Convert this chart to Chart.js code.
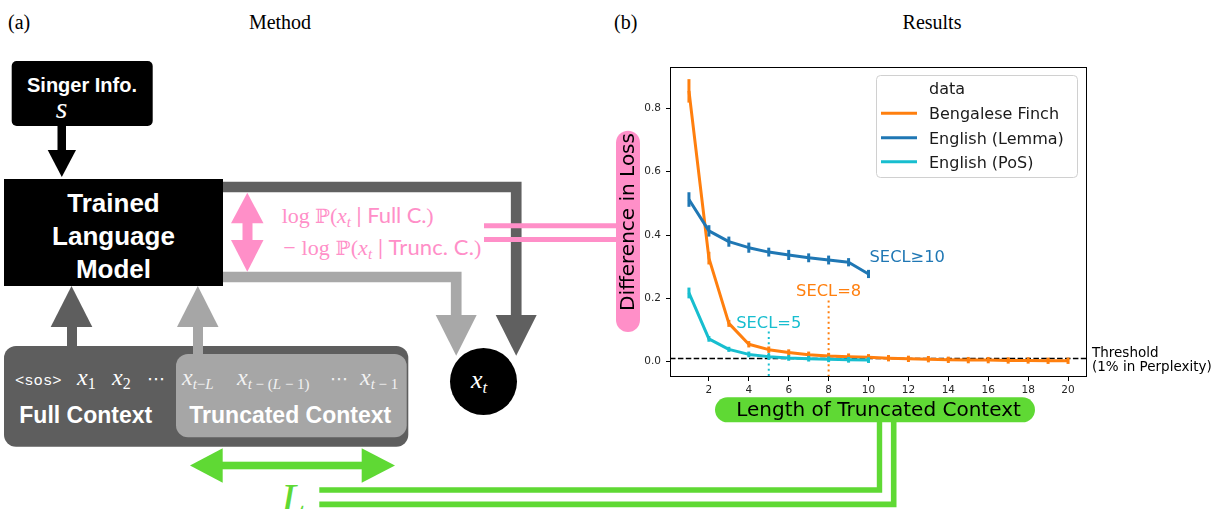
<!DOCTYPE html>
<html><head><meta charset="utf-8">
<script src="https://cdn.jsdelivr.net/npm/chart.js@4.4.1/dist/chart.umd.min.js"></script>
<style>
html,body{margin:0;padding:0;background:#fff;width:1215px;height:509px;overflow:hidden}
#wrap{position:relative;width:1215px;height:509px}
#diag{position:absolute;left:0;top:0}
#c{position:absolute;left:0;top:0}
</style></head><body>
<div id="wrap">
<svg id="diag" width="1215" height="509" xmlns="http://www.w3.org/2000/svg">
<g font-family="Liberation Serif" font-size="20" fill="#000">
 <text x="8" y="29">(a)</text>
 <text x="280" y="29" text-anchor="middle">Method</text>
 <text x="614" y="29">(b)</text>
 <text x="932" y="29" text-anchor="middle">Results</text>
</g>
<rect x="11.7" y="61" width="141" height="65" rx="5" fill="#000"/>
<text x="82" y="92" text-anchor="middle" font-family="Liberation Sans" font-weight="bold" font-size="20" fill="#fff">Singer Info.</text>
<text x="61.5" y="118" text-anchor="middle" font-family="Liberation Serif" font-style="italic" font-size="30" fill="#fff">s</text>
<rect x="57.5" y="125" width="8.5" height="27" fill="#000"/>
<polygon points="47.7,150 76,150 61.8,177" fill="#000"/>
<rect x="4" y="179" width="219" height="107" fill="#000"/>
<g font-family="Liberation Sans" font-weight="bold" font-size="26" fill="#fff" text-anchor="middle">
<text x="113.5" y="211.5">Trained</text><text x="113.5" y="245">Language</text><text x="113.5" y="277.5">Model</text></g>
<polyline points="223,187 516.2,187 516.2,316" fill="none" stroke="#606060" stroke-width="10.7"/>
<polygon points="495.7,315 536.7,315 516.2,355.7" fill="#606060"/>
<polyline points="223,277 456.2,277 456.2,316" fill="none" stroke="#a8a8a8" stroke-width="10.7"/>
<polygon points="435.7,315 476.7,315 456.2,355.7" fill="#a8a8a8"/>
<rect x="242.5" y="221" width="10" height="21" fill="#ff8fc8"/>
<polygon points="231,223.3 263.5,223.3 247.3,192.7" fill="#ff8fc8"/>
<polygon points="231,240 263.5,240 247.3,271.7" fill="#ff8fc8"/>
<g fill="#ff8fc8" font-size="22" font-family="Liberation Serif">
<text x="281.7" y="223" textLength="152" lengthAdjust="spacing">log <tspan font-family="DejaVu Serif" font-size="20">ℙ</tspan>(<tspan font-style="italic">x</tspan><tspan font-style="italic" font-size="15" dy="4">t</tspan><tspan dy="-4"> </tspan><tspan font-family="Lato">| Full C.</tspan>)</text>
<text x="283.3" y="255" textLength="198" lengthAdjust="spacing">− log <tspan font-family="DejaVu Serif" font-size="20">ℙ</tspan>(<tspan font-style="italic">x</tspan><tspan font-style="italic" font-size="15" dy="4">t</tspan><tspan dy="-4"> </tspan><tspan font-family="Lato">| Trunc. C.</tspan>)</text>
</g>
<line x1="484" y1="225.8" x2="622" y2="225.8" stroke="#ff8fc8" stroke-width="5"/>
<line x1="484" y1="239.5" x2="622" y2="239.5" stroke="#ff8fc8" stroke-width="5"/>
<circle cx="483.5" cy="381.5" r="33.5" fill="#000"/>
<text x="471" y="388" font-family="Liberation Serif" font-style="italic" font-size="26" fill="#fff">x<tspan font-size="17" dy="5">t</tspan></text>
<rect x="67" y="320" width="10" height="30" fill="#5e5e5e"/>
<polygon points="50.7,327 92.3,327 71.5,286" fill="#5e5e5e"/>
<rect x="4" y="346" width="404.3" height="100.7" rx="12" fill="#5e5e5e"/>
<rect x="176" y="354" width="230.7" height="83.3" rx="12" fill="#a6a6a6"/>
<rect x="193" y="320" width="10" height="36" fill="#a6a6a6"/>
<polygon points="177,327 218.5,327 197.8,286" fill="#a6a6a6"/>
<g fill="#fff" font-family="Liberation Serif" font-style="italic" font-size="24">
<text x="15" y="385" font-family="Liberation Mono" font-style="normal" font-size="15.5">&lt;sos&gt;</text>
<text x="77" y="385">x<tspan font-style="normal" font-size="16" dy="4">1</tspan></text>
<text x="112" y="385">x<tspan font-style="normal" font-size="16" dy="4">2</tspan></text>
<text x="147" y="385" font-family="DejaVu Sans" font-style="normal" font-size="18">⋯</text>
</g>
<g fill="#f2f2f2" font-family="Liberation Serif" font-style="italic" font-size="24">
<text x="182" y="385">x<tspan font-size="15" dy="4">t</tspan><tspan font-style="normal" font-size="15">−</tspan><tspan font-size="15">L</tspan></text>
<text x="237" y="385">x<tspan font-size="15" dy="4">t</tspan><tspan font-style="normal" font-size="15"> − (</tspan><tspan font-size="15">L</tspan><tspan font-style="normal" font-size="15"> − 1)</tspan></text>
<text x="330" y="385" font-family="DejaVu Sans" font-style="normal" font-size="18">⋯</text>
<text x="360" y="385">x<tspan font-size="15" dy="4">t</tspan><tspan font-style="normal" font-size="15"> − 1</tspan></text>
</g>
<g fill="#fff" font-family="Liberation Sans" font-weight="bold" font-size="23">
<text x="19.3" y="423.3">Full Context</text>
<text x="189.3" y="423.3">Truncated Context</text>
</g>
<rect x="220" y="461.7" width="144" height="7.6" fill="#5fd934"/>
<polygon points="190,465.5 222.7,448.3 222.7,482.7" fill="#5fd934"/>
<polygon points="395,465.5 361.7,448.3 361.7,482.7" fill="#5fd934"/>
<text x="281" y="514" font-family="Liberation Serif" font-style="italic" font-size="44" fill="#5fd934">L</text>
<polyline points="319.3,490 879.5,490 879.5,418" fill="none" stroke="#5fd934" stroke-width="5.4"/>
<polyline points="319.3,504.4 893.7,504.4 893.7,418" fill="none" stroke="#5fd934" stroke-width="5.6"/>
</svg>
<canvas id="c" width="1215" height="509"></canvas>
</div>
<script>
// ---- data ----
const LENGTHS = [1,2,3,4,5,6,7,8,9,10,11,12,13,14,15,16,17,18,19,20];
const FINCH = [0.855,0.327,0.121,0.055,0.038,0.029,0.022,0.018,0.016,0.014,0.011,0.009,0.008,0.006,0.005,0.005,0.004,0.004,0.003,0.003];
const FINCH_ERR = [0.037,0.020,0.011,0.010,0.010,0.010,0.010,0.010,0.010,0.010,0.010,0.010,0.010,0.010,0.010,0.010,0.010,0.010,0.010,0.010];
const LEMMA = [0.512,0.413,0.379,0.360,0.346,0.337,0.328,0.321,0.314,0.277];
const LEMMA_ERR = [0.023,0.018,0.016,0.016,0.014,0.016,0.014,0.014,0.013,0.013];
const POS = [0.217,0.072,0.039,0.023,0.016,0.012,0.0095,0.0075,0.006,0.005];
const POS_ERR = [0.017,0.009,0.008,0.009,0.009,0.009,0.009,0.009,0.009,0.009];
const SERIES_NAMES = ['Bengalese Finch','English (Lemma)','English (PoS)'];
const LEGEND_TITLE = 'data';
const X_TICKS = [2,4,6,8,10,12,14,16,18,20];
const Y_TICKS = [0.0,0.2,0.4,0.6,0.8];
const THRESHOLD = 0.01;
const THRESHOLD_LABEL = ['Threshold','(1% in Perplexity)'];
const SECL_LABELS = ['SECL=5','SECL=8','SECL≥10'];
const SECL_X = [5,8,10];
const SECL_SERIES = [2,0,1];
const SECL_LINE_TOP = [0.095,0.193,null];
const SECL_TEXT_Y = [0.105,0.207,0.314];
const SECL_ALIGN = ['center','center','left'];
const COLORS = ['#ff7f0e','#1f77b4','#17becf'];

Chart.defaults.font.family = "'DejaVu Sans', sans-serif";

function rr(ctx,x,y,w,h,r){ctx.beginPath();ctx.moveTo(x+r,y);ctx.lineTo(x+w-r,y);ctx.arcTo(x+w,y,x+w,y+r,r);ctx.lineTo(x+w,y+h-r);ctx.arcTo(x+w,y+h,x+w-r,y+h,r);ctx.lineTo(x+r,y+h);ctx.arcTo(x,y+h,x,y+h-r,r);ctx.lineTo(x,y+r);ctx.arcTo(x,y,x+r,y,r);ctx.closePath();}

const mk = (vals) => vals.map((v,i)=>({x:LENGTHS[i], y:v}));

const errorBars = {
  id:'errorBars',
  afterDatasetDraw(chart,args){
    const ds = chart.data.datasets[args.index];
    if(!ds.errors) return;
    const {x,y} = chart.scales, ctx = chart.ctx;
    ctx.save(); ctx.strokeStyle = ds.borderColor; ctx.lineWidth = 3; ctx.lineCap='butt';
    ds.data.forEach((p,i)=>{
      const px = x.getPixelForValue(p.x);
      ctx.beginPath(); ctx.moveTo(px,y.getPixelForValue(p.y-ds.errors[i])); ctx.lineTo(px,y.getPixelForValue(p.y+ds.errors[i])); ctx.stroke();
    });
    ctx.restore();
  }
};

const decor = {
  id:'decor',
  beforeDraw(chart){
    const ctx = chart.ctx; ctx.save();
    ctx.fillStyle='#ff8fc8'; rr(ctx,616,130.7,24,201.3,12); ctx.fill();
    ctx.fillStyle='#5fd934'; rr(ctx,715,397.3,320,25,12.5); ctx.fill();
    ctx.restore();
  },
  beforeDatasetsDraw(chart){
    const {ctx,scales:{x,y},chartArea:a} = chart;
    ctx.save();
    ctx.strokeStyle='#000'; ctx.lineWidth=1.5; ctx.setLineDash([5.5,2.4]);
    const ty = y.getPixelForValue(THRESHOLD);
    ctx.beginPath(); ctx.moveTo(a.left,ty); ctx.lineTo(a.right,ty); ctx.stroke();
    ctx.lineWidth=2; ctx.setLineDash([2,3.3]);
    SECL_X.forEach((v,i)=>{
      if(SECL_LINE_TOP[i]==null) return;
      ctx.strokeStyle = COLORS[SECL_SERIES[i]];
      const px = x.getPixelForValue(v);
      ctx.beginPath(); ctx.moveTo(px,y.getPixelForValue(SECL_LINE_TOP[i])); ctx.lineTo(px,a.bottom); ctx.stroke();
    });
    ctx.restore();
  },
  afterDraw(chart){
    const {ctx,scales:{x,y},chartArea:a} = chart;
    ctx.save();
    ctx.strokeStyle='#000'; ctx.lineWidth=1; ctx.setLineDash([]);
    ctx.strokeRect(a.left+0.5,a.top+0.5,a.right-a.left-1,a.bottom-a.top-1);
    ctx.font='16.3px "DejaVu Sans"'; ctx.textBaseline='alphabetic';
    SECL_LABELS.forEach((t,i)=>{
      ctx.fillStyle = COLORS[SECL_SERIES[i]];
      ctx.textAlign = SECL_ALIGN[i];
      ctx.fillText(t, x.getPixelForValue(SECL_X[i]) + (SECL_ALIGN[i]==='left'?1:0), y.getPixelForValue(SECL_TEXT_Y[i]));
    });
    ctx.fillStyle='#000'; ctx.textAlign='left'; ctx.font='13.5px "DejaVu Sans"';
    ctx.fillText(THRESHOLD_LABEL[0], a.right+5, 356.7);
    ctx.fillText(THRESHOLD_LABEL[1], a.right+5, 370.5);
    ctx.fillStyle='rgba(255,255,255,0.85)'; rr(ctx,876.5,75.5,201,102,4); ctx.fill();
    ctx.strokeStyle='#d0d0d0'; ctx.lineWidth=1; ctx.stroke();
    ctx.font='16px "DejaVu Sans"'; ctx.fillStyle='#1a1a1a';
    ctx.fillText(LEGEND_TITLE, 929, 94.3);
    const ly = [113.3,137.7,161.7];
    SERIES_NAMES.forEach((n,i)=>{
      ctx.strokeStyle=COLORS[i]; ctx.lineWidth=3;
      ctx.beginPath(); ctx.moveTo(881,ly[i]); ctx.lineTo(917,ly[i]); ctx.stroke();
      ctx.fillStyle='#1a1a1a'; ctx.fillText(n, 929, ly[i]+6);
    });
    ctx.restore();
  }
};

const line = (i, vals, errs, order) => ({
  label: SERIES_NAMES[i], data: mk(vals), errors: errs,
  borderColor: COLORS[i], backgroundColor: COLORS[i], borderWidth: 3,
  pointRadius: 0, tension: 0, borderJoinStyle:'round', order
});

new Chart(document.getElementById('c'), {
  type:'line',
  data:{ datasets:[ line(0,FINCH,FINCH_ERR,3), line(1,LEMMA,LEMMA_ERR,2), line(2,POS,POS_ERR,1) ] },
  options:{
    responsive:false, animation:false, devicePixelRatio:1,
    layout:{ padding:{left:600, top:67, right:128, bottom:0} },
    plugins:{ legend:{display:false}, tooltip:{enabled:false} },
    scales:{
      x:{ type:'linear', min:0.05, max:20.95,
        afterFit:(s)=>{ s.height = 132; },
        afterBuildTicks:(s)=>{ s.ticks = X_TICKS.map(v=>({value:v})); },
        grid:{ drawOnChartArea:false, drawTicks:true, tickLength:4, tickColor:'#000' },
        border:{ display:false },
        ticks:{ font:{size:10.5}, color:'#262626', padding:3, maxRotation:0, autoSkip:false, callback:(v)=>String(v) },
        title:{ display:true, text:'Length of Truncated Context', font:{size:20}, color:'#000', padding:{top:0,bottom:86} }
      },
      y:{ type:'linear', min:-0.0483, max:0.9304,
        afterFit:(s)=>{ s.width = 70; },
        afterBuildTicks:(s)=>{ s.ticks = Y_TICKS.map(v=>({value:v})); },
        grid:{ drawOnChartArea:false, drawTicks:true, tickLength:4, tickColor:'#000' },
        border:{ display:false },
        ticks:{ font:{size:10.5}, color:'#262626', padding:5, autoSkip:false, callback:(v)=>Number(v).toFixed(1) },
        title:{ display:true, text:'Difference in Loss', font:{size:20}, color:'#000', padding:{top:17,bottom:0} }
      }
    }
  },
  plugins:[errorBars, decor]
});
</script>
</body></html>
